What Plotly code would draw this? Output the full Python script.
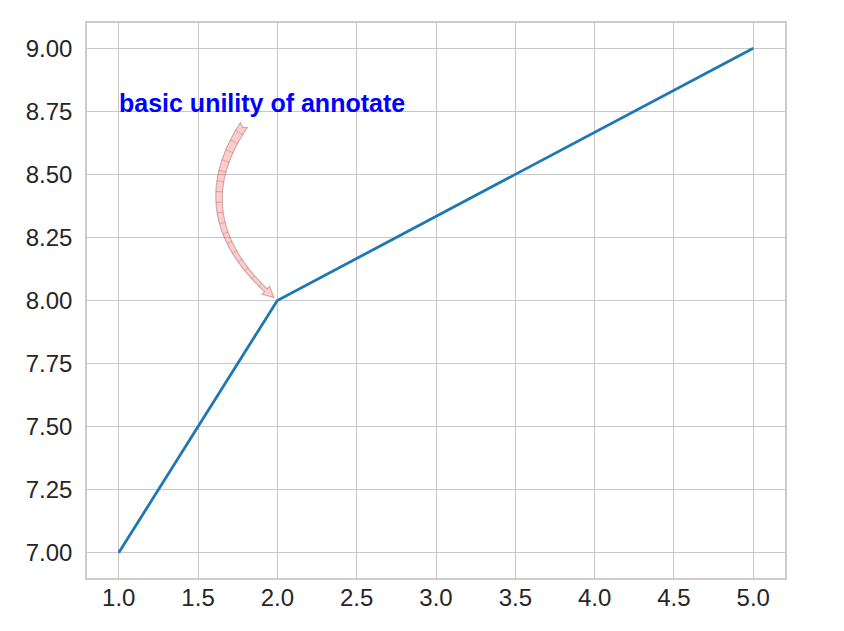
import numpy as np
import plotly.graph_objects as go

# ---- data ----
x_vals = [1, 2, 5]
y_vals = [7, 8, 9]
x_ticks = [1.0, 1.5, 2.0, 2.5, 3.0, 3.5, 4.0, 4.5, 5.0]
y_ticks = [7.00, 7.25, 7.50, 7.75, 8.00, 8.25, 8.50, 8.75, 9.00]
annot_text = "basic unility of annotate"
annot_xy = (2, 8)          # point the arrow targets
annot_text_xy = (1, 8.75)  # text anchor (left, baseline)
arrow_from = (1.89, 8.78)  # centre of the text box, where the arc starts
arrow_rad = 0.5

# ---- layout geometry (page body has an 8px margin) ----
FW, FH = 828, 615
ML, MR, MT, MB = 79, 51, 15, 45
X0, X1 = 0.8, 5.2
Y0, Y1 = 6.9, 9.1
PW = FW - ML - MR
PH = FH - MT - MB
sx = PW / (X1 - X0)
sy = PH / (Y1 - Y0)


def to_px(x, y):
    return np.array([(x - X0) * sx, (y - Y0) * sy])


def to_data(p):
    return (p[0] / sx + X0, p[1] / sy + Y0)


# arc3-style quadratic curve in pixel space (y up)
S = to_px(*arrow_from)
E = to_px(*annot_xy)
mid = (S + E) / 2
d = E - S
C = mid + arrow_rad * np.array([d[1], -d[0]])

t = np.linspace(0, 1, 2001)
pts = ((1 - t) ** 2)[:, None] * S + (2 * t * (1 - t))[:, None] * C + (t ** 2)[:, None] * E
seg = np.linalg.norm(np.diff(pts, axis=0), axis=1)
s = np.concatenate([[0], np.cumsum(seg)])
L = s[-1]


def at(sv):
    i = np.searchsorted(s, sv)
    i = min(max(i, 1), len(s) - 1)
    p = pts[i]
    tan = pts[i] - pts[i - 1]
    tan = tan / np.linalg.norm(tan)
    n = np.array([-tan[1], tan[0]])
    return p, tan, n


s_start = s[np.searchsorted(t, 0.1)]
s_tip = L - 4.5
head_len = 11.0
s_base = s_tip - head_len


def half_width(f):
    return 4.3 * (1 - f) + 1.9 * f


left, right = [], []
ss = np.linspace(s_start, s_base, 80)
for k, sv in enumerate(ss):
    f = k / (len(ss) - 1)
    hw = half_width(f)
    p, tan, n = at(sv)
    left.append(p + n * hw)
    right.append(p - n * hw)

pb, tb, nb = at(s_base)
ptip, ttip, ntip = at(s_tip)
head_hw = 5.6
poly = []
poly += left
poly.append(pb + nb * head_hw)
poly.append(ptip)
poly.append(pb - nb * head_hw)
poly += right[::-1]
p0, t0, n0 = at(s_start)
poly.append(p0 + t0 * 2.5)  # notch at tail end

path = "M " + " L ".join("{:.5f},{:.5f}".format(*to_data(p)) for p in poly) + " Z"

# faint cross lines inside the tail
hatch = []
for sv in np.arange(s_start + 9, s_base - 3, 10.5):
    f = (sv - s_start) / (s_base - s_start)
    hw = half_width(f)
    p, tan, n = at(sv)
    a = to_data(p + n * hw)
    b = to_data(p - n * hw)
    hatch.append("M {:.5f},{:.5f} L {:.5f},{:.5f}".format(a[0], a[1], b[0], b[1]))
hatch_path = " ".join(hatch)

fig = go.Figure()
fig.add_trace(go.Scatter(x=x_vals, y=y_vals, mode="lines",
                         line=dict(color="#1f77b4", width=2.8),
                         showlegend=False, hoverinfo="skip"))

fig.add_shape(type="path", path=path, xref="x", yref="y",
              fillcolor="rgba(255,0,0,0.2)",
              line=dict(color="rgba(80,0,0,0.25)", width=1.2), layer="above")
fig.add_shape(type="path", path=hatch_path, xref="x", yref="y",
              line=dict(color="rgba(80,0,0,0.2)", width=1), layer="above")

fig.add_annotation(x=annot_text_xy[0], y=annot_text_xy[1], xref="x", yref="y",
                   text="<b>" + annot_text + "</b>", showarrow=False,
                   xanchor="left", yanchor="middle", yshift=8, xshift=-2,
                   font=dict(family="Liberation Sans, Arial, sans-serif", size=25, color="#0000ff"))

axis_common = dict(showline=True, linecolor="#cccccc", linewidth=1.6, mirror=True,
                   showgrid=True, gridcolor="#c8c8c8", gridwidth=1.4, zeroline=False,
                   automargin=False,
                   ticks="", tickfont=dict(family="Liberation Sans, Arial, sans-serif",
                                           size=24, color="#262626"))
fig.update_xaxes(range=[X0, X1], tickvals=x_ticks,
                 ticktext=["{:.1f}".format(v) for v in x_ticks], ticklabelstandoff=-3,
                 **axis_common)
fig.update_yaxes(range=[Y0, Y1], tickvals=y_ticks,
                 ticktext=["{:.2f}".format(v) for v in y_ticks], ticklabelstandoff=8,
                 **axis_common)

fig.update_layout(width=FW, height=FH, margin=dict(l=ML, r=MR, t=MT, b=MB),
                  plot_bgcolor="white", paper_bgcolor="white", showlegend=False)

fig.write_html("out.html")
